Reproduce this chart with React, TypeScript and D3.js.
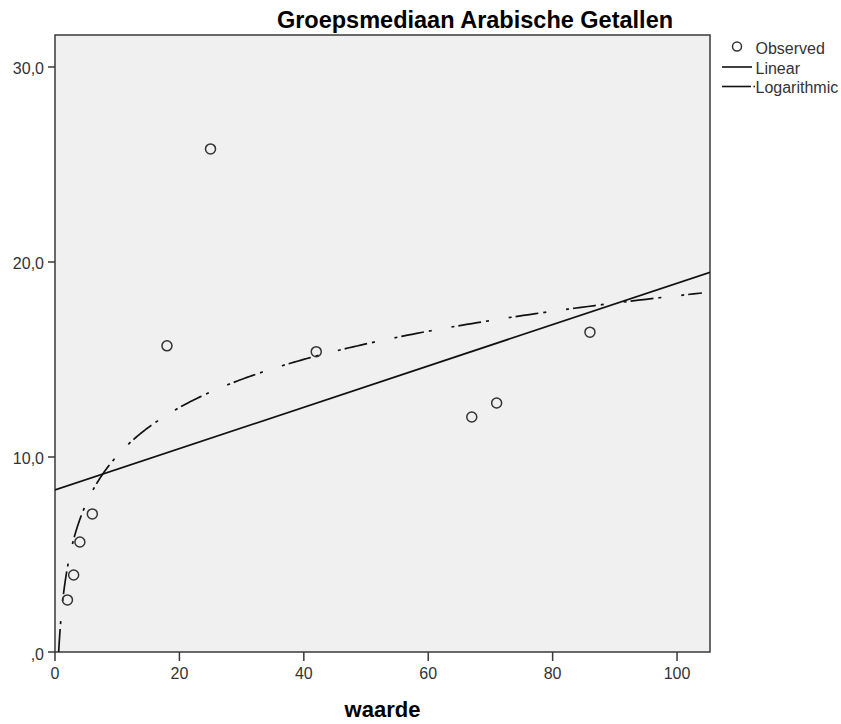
import React from "react";
import * as d3 from "d3";

const title = "Groepsmediaan Arabische Getallen";
const xLabel = "waarde";
const obsX = [2, 3, 4, 6, 18, 25, 42, 67, 71, 86];
const obsY = [2.67, 3.95, 5.64, 7.08, 15.7, 25.8, 15.4, 12.05, 12.77, 16.4];
const xTicks = [0, 20, 40, 60, 80, 100];
const yTicks = [0, 10, 20, 30];
const yTickLabels = [",0", "10,0", "20,0", "30,0"];
const legendItems = ["Observed", "Linear", "Logarithmic"];
const xDomain = [0, 105.3];
const yDomain = [0, 31.64];
const logEndX = 104;

const W = 841;
const H = 724;
const left = 55;
const right = 710;
const top = 35;
const bottom = 652;

function fitLinear(xs: number[], ys: number[]) {
  const mx = d3.mean(xs)!;
  const my = d3.mean(ys)!;
  let sxy = 0, sxx = 0;
  xs.forEach((x, i) => {
    sxy += (x - mx) * (ys[i] - my);
    sxx += (x - mx) * (x - mx);
  });
  const b = sxy / sxx;
  return { a: my - b * mx, b };
}

export default function App() {
  const x = d3.scaleLinear().domain(xDomain).range([left, right]);
  const y = d3.scaleLinear().domain(yDomain).range([bottom, top]);

  const lin = fitLinear(obsX, obsY);
  const lg = fitLinear(obsX.map(Math.log), obsY);

  const linPath = d3.line<number>()
    .x((d) => x(d))
    .y((d) => y(lin.a + lin.b * d))(xDomain as number[]);

  const x0 = Math.exp(-lg.a / lg.b);
  const logPts = d3.range(0, 401).map((i) => Math.exp(Math.log(x0) + (Math.log(logEndX) - Math.log(x0)) * i / 400));
  const logPath = d3.line<number>()
    .x((d) => x(d))
    .y((d) => y(lg.a + lg.b * Math.log(d)))
    .curve(d3.curveLinear)(logPts);

  const axisColor = "#3a3a3a";
  const font = "'Liberation Sans', Arial, sans-serif";

  return (
    <svg width={W} height={H} style={{ position: "absolute", left: 0, top: 0 }} fontFamily={font}>
      <rect x={0} y={0} width={W} height={H} fill="#ffffff" />
      <text x={475} y={28} textAnchor="middle" fontSize={23.5} fontWeight="bold" fill="#000">{title}</text>
      <defs>
        <clipPath id="plotclip">
          <rect x={left} y={top} width={right - left} height={bottom - top} />
        </clipPath>
      </defs>
      <rect x={left} y={top} width={right - left} height={bottom - top} fill="#f0f0f0" stroke={axisColor} strokeWidth={1.5} />
      <g clipPath="url(#plotclip)">
        <path d={linPath || ""} fill="none" stroke="#111" strokeWidth={1.7} />
        <path d={logPath || ""} fill="none" stroke="#111" strokeWidth={1.7} strokeDasharray="23,5,3,20,3,4" />
        {obsX.map((d, i) => (
          <circle key={i} cx={x(d)} cy={y(obsY[i])} r={5} fill="none" stroke="#333" strokeWidth={1.5} />
        ))}
      </g>
      {yTicks.map((t, i) => (
        <g key={"y" + t}>
          <line x1={left - 7} x2={left} y1={y(t)} y2={y(t)} stroke={axisColor} strokeWidth={1.5} />
          <text x={44} y={y(t) + 7.5} textAnchor="end" fontSize={16} fill="#333">{yTickLabels[i]}</text>
        </g>
      ))}
      {xTicks.map((t) => (
        <g key={"x" + t}>
          <line x1={x(t)} x2={x(t)} y1={bottom} y2={bottom + 9} stroke={axisColor} strokeWidth={1.5} />
          <text x={x(t)} y={679} textAnchor="middle" fontSize={16} fill="#333">{t}</text>
        </g>
      ))}
      <text x={(left + right) / 2} y={717} textAnchor="middle" fontSize={22} fontWeight="bold" fill="#000">{xLabel}</text>
      <g>
        <circle cx={737} cy={46.5} r={4.5} fill="none" stroke="#333" strokeWidth={1.5} />
        <text x={755.5} y={53.5} fontSize={16} fill="#333">{legendItems[0]}</text>
        <line x1={722} x2={752} y1={67} y2={67} stroke="#111" strokeWidth={1.6} />
        <text x={755.5} y={73.5} fontSize={16} fill="#333">{legendItems[1]}</text>
        <line x1={722} x2={751} y1={86.5} y2={86.5} stroke="#111" strokeWidth={1.6} />
        <line x1={753.5} x2={755} y1={86.5} y2={86.5} stroke="#111" strokeWidth={1.6} />
        <text x={755.5} y={93} fontSize={16} fill="#333">{legendItems[2]}</text>
      </g>
    </svg>
  );
}
